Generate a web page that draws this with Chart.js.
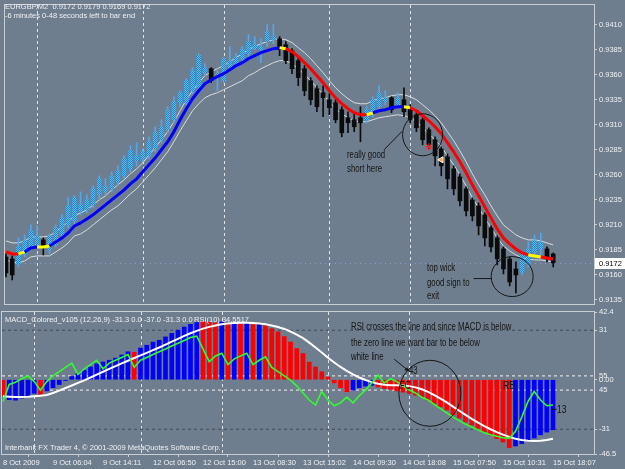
<!DOCTYPE html>
<html>
<head>
<meta charset="utf-8">
<script src="https://cdn.jsdelivr.net/npm/chart.js@4.4.1/dist/chart.umd.min.js"></script>
<style>
  html, body { margin: 0; padding: 0; background: #6f7e8e; }
  #wrap { position: relative; width: 625px; height: 469px; overflow: hidden; background: #6f7e8e; font-family: "Liberation Sans", Arial, sans-serif; }
  #top { position: absolute; left: 0; top: 0; }
  #bot { position: absolute; left: 0; top: 309px; }
  .t { position: absolute; font-size: 7.5px; line-height: 9px; color: #eef1f4; white-space: pre; }
  .n { position: absolute; font-size: 10px; line-height: 12px; color: #141414; white-space: pre; transform: scaleX(0.78); transform-origin: 0 0; }
</style>
</head>
<body>
<div id="wrap">
  <canvas id="top" width="625" height="309"></canvas>
  <canvas id="bot" width="625" height="160"></canvas>

  <div class="t" style="left:5px;top:2px">EURGBP,M2  0.9172 0.9179 0.9169 0.9172</div>
  <div class="t" style="left:5px;top:11px">-6 minutes 0-48 seconds left to bar end</div>
  <div class="t" style="left:5px;top:315px">MACD_Colored_v105 (12,26,9) -31.3 0.0 -37.0 -31.3 0.0</div>
  <div class="t" style="left:194px;top:315px">RSI(10) 34.5517</div>
  <div class="t" style="left:5px;top:443px">Interbank FX Trader 4, © 2001-2009 MetaQuotes Software Corp.</div>

  <div class="n" style="left:347px;top:149px">really good</div>
  <div class="n" style="left:347px;top:163px">short here</div>
  <div class="n" style="left:427px;top:262px">top wick</div>
  <div class="n" style="left:427px;top:277px">good sign to</div>
  <div class="n" style="left:427px;top:290px">exit</div>
  <div class="n" style="left:351px;top:321px">RSI crosses the line and since MACD is below</div>
  <div class="n" style="left:351px;top:337px">the zero line we want bar to be below</div>
  <div class="n" style="left:351px;top:351px">white line</div>
  <div class="n" style="left:409px;top:365px">43</div>
  <div class="n" style="left:400px;top:380px">FC</div>
  <div class="n" style="left:503px;top:379px;font-size:11px">RB</div>
  <div class="n" style="left:557px;top:403px;font-size:11px">13</div>
</div>

<script>
// time axis, one label every 8 bars
const timeLabels = ['8 Oct 2009', '9 Oct 06:04', '9 Oct 14:11', '12 Oct 06:50', '12 Oct 15:00', '13 Oct 08:30',
                    '13 Oct 15:02', '14 Oct 09:30', '14 Oct 18:08', '15 Oct 07:50', '15 Oct 10:31', '15 Oct 18:07'];
const tickIdx = [0, 8, 16, 24, 32, 40, 48, 56, 64, 72, 80, 88];
const sepIdx = [5, 22, 35, 52, 65];
const priceTicks = [0.9135, 0.9160, 0.9185, 0.9210, 0.9235, 0.9260, 0.9285, 0.9310, 0.9335, 0.9360, 0.9385, 0.9410];

const open = [.9178,.9176,.9171,.9181,.9188,.9190,.9195,.9185,.9190,.9200,
  .9210,.9214,.9224,.9225,.9230,.9240,.9243,.9246,.9253,.9259,
  .9266,.9274,.9276,.9279,.9286,.9295,.9305,.9315,.9332,.9332,
  .9344,.9347,.9362,.9366,.9357,.9354,.9367,.9369,.9376,.9381,
  .9386,.9385,.9393,.9395,.9396,.9390,.9384,.9374,.9366,.9354,
  .9346,.9342,.9335,.9332,.9325,.9317,.9315,.9317,.9315,.9322,
  .9328,.9333,.9337,.9330,.9335,.9327,.9320,.9315,.9305,.9295,
  .9286,.9278,.9266,.9258,.9246,.9235,.9229,.9220,.9207,.9197,
  .9186,.9176,.9166,.9163,.9172,.9183,.9186,.9186,.9181];
const high = [.9181,.9179,.9197,.9200,.9210,.9209,.9197,.9201,.9210,.9220,
  .9237,.9239,.9243,.9240,.9249,.9259,.9256,.9263,.9269,.9279,
  .9289,.9292,.9286,.9298,.9308,.9315,.9328,.9338,.9344,.9356,
  .9367,.9381,.9371,.9367,.9364,.9377,.9388,.9381,.9388,.9400,
  .9398,.9396,.9410,.9410,.9398,.9393,.9386,.9377,.9369,.9357,
  .9349,.9349,.9341,.9335,.9328,.9323,.9322,.9328,.9328,.9338,
  .9349,.9344,.9338,.9342,.9347,.9330,.9322,.9317,.9307,.9298,
  .9288,.9281,.9269,.9261,.9248,.9237,.9232,.9222,.9209,.9199,
  .9188,.9178,.9173,.9183,.9193,.9200,.9202,.9188,.9182];
const low = [.9158,.9155,.9168,.9178,.9185,.9188,.9180,.9181,.9188,.9197,
  .9207,.9210,.9220,.9222,.9227,.9235,.9240,.9243,.9249,.9256,
  .9263,.9269,.9273,.9276,.9283,.9292,.9302,.9312,.9328,.9330,
  .9341,.9344,.9359,.9352,.9344,.9352,.9366,.9367,.9374,.9377,
  .9385,.9372,.9388,.9391,.9379,.9371,.9361,.9349,.9339,.9330,
  .9323,.9318,.9320,.9312,.9298,.9302,.9303,.9293,.9312,.9318,
  .9325,.9330,.9322,.9327,.9318,.9312,.9303,.9290,.9286,.9269,
  .9259,.9246,.9240,.9229,.9219,.9214,.9200,.9189,.9183,.9170,
  .9161,.9149,.9142,.9160,.9168,.9180,.9180,.9173,.9168];
const close = [.9162,.9160,.9188,.9194,.9204,.9199,.9188,.9199,.9207,.9217,
  .9229,.9237,.9230,.9235,.9246,.9256,.9249,.9259,.9264,.9276,
  .9284,.9279,.9283,.9293,.9303,.9308,.9325,.9333,.9342,.9354,
  .9364,.9379,.9367,.9354,.9361,.9376,.9374,.9377,.9385,.9393,
  .9390,.9388,.9403,.9398,.9385,.9374,.9366,.9357,.9344,.9335,
  .9328,.9337,.9327,.9315,.9302,.9312,.9308,.9312,.9325,.9335,
  .9342,.9337,.9325,.9337,.9323,.9315,.9307,.9295,.9290,.9279,
  .9269,.9256,.9246,.9234,.9224,.9219,.9209,.9197,.9188,.9176,
  .9166,.9153,.9160,.9180,.9186,.9194,.9192,.9177,.9172];

// trend line and its envelope
const ma = [.9183,.9181,.9181,.9183,.9187,.9188,.9188,.9189,.9193,.9197,
  .9202,.9209,.9212,.9216,.9220,.9225,.9230,.9235,.9240,.9245,
  .9251,.9256,.9263,.9270,.9277,.9285,.9293,.9303,.9315,.9326,
  .9336,.9344,.9351,.9355,.9358,.9361,.9365,.9369,.9372,.9376,
  .9379,.9382,.9384,.9386,.9387,.9386,.9383,.9378,.9372,.9366,
  .9359,.9352,.9344,.9337,.9331,.9326,.9322,.9320,.9320,.9322,
  .9324,.9325,.9327,.9328,.9328,.9327,.9324,.9319,.9314,.9308,
  .9301,.9292,.9283,.9273,.9262,.9250,.9239,.9228,.9217,.9206,
  .9197,.9191,.9186,.9182,.9180,.9179,.9178,.9177,.9176];
// [first bar, colour] runs of the trend line
const maSegs = [[0,'r'],[2,'y'],[3,'b'],[5,'y'],[7,'b'],[44,'y'],[45,'r'],[58,'y'],[59,'b'],[64,'y'],[65,'r'],[84,'y'],[86,'r']];
const upBand = [.9194,.9192,.9192,.9194,.9198,.9198,.9198,.9199,.9203,.9208,
  .9213,.9219,.9222,.9225,.9230,.9235,.9239,.9245,.9250,.9255,
  .9261,.9266,.9272,.9280,.9287,.9295,.9303,.9313,.9324,.9335,
  .9344,.9352,.9359,.9363,.9366,.9369,.9373,.9377,.9381,.9385,
  .9388,.9391,.9393,.9395,.9396,.9395,.9392,.9387,.9382,.9376,
  .9369,.9362,.9354,.9347,.9341,.9336,.9332,.9331,.9331,.9334,
  .9336,.9337,.9339,.9340,.9340,.9338,.9335,.9330,.9325,.9319,
  .9312,.9303,.9294,.9284,.9273,.9261,.9250,.9240,.9229,.9219,
  .9210,.9205,.9200,.9197,.9195,.9195,.9194,.9192,.9190];
const dnBand = [.9175,.9173,.9172,.9174,.9178,.9179,.9179,.9179,.9183,.9187,
  .9192,.9199,.9201,.9205,.9210,.9215,.9220,.9225,.9229,.9235,
  .9241,.9246,.9253,.9260,.9267,.9275,.9283,.9293,.9304,.9314,
  .9324,.9331,.9337,.9340,.9342,.9345,.9348,.9351,.9354,.9359,
  .9362,.9366,.9369,.9372,.9374,.9374,.9371,.9366,.9360,.9354,
  .9347,.9340,.9333,.9326,.9321,.9317,.9314,.9313,.9313,.9315,
  .9317,.9318,.9319,.9320,.9319,.9317,.9313,.9307,.9301,.9295,
  .9288,.9279,.9270,.9260,.9249,.9237,.9227,.9217,.9207,.9197,
  .9189,.9184,.9180,.9177,.9176,.9175,.9175,.9174,.9173];
const markIdx = [68, 70];
const markPrice = [0.9288, 0.9275];

// lower window
const macd = [-10,-12.5,-12.8,-11.5,-10,-8.5,-9,-7,-5,-3,
  -0.5,2,4,6,8,10,11.1,12.2,13.5,15.5,
  17.5,17.2,19.8,21.6,23.6,24.7,26.8,29,31,33,
  34.7,35.8,36.3,36,35.5,36.2,35.5,35.8,35,35.3,
  34.5,34.8,34,32,30,27,23.6,19.5,16.4,11,
  8,5,1.8,-2,-5,-7.5,-6.5,-5,-4,-3.5,
  -4.5,-5.5,-6,-7,-7.8,-8.6,-9.7,-10.7,-12.8,-14.9,
  -17,-19,-22,-24,-26.4,-28.4,-30.5,-32.6,-34.7,-36.8,
  -39,-42.5,-41.5,-40,-38.5,-36.5,-34.5,-32.8,-31.3];
const macdRed = [[0,0],[6,6],[21,21],[32,34],[36,36],[38,38],[40,40],[42,55],[60,81]];
const signal = [-10.4,-10.6,-10.8,-10.8,-10.6,-10.3,-10,-9.5,-8.3,-6.8,
  -5.2,-3.6,-2,-0.4,1.4,3.2,5,6.8,8.5,10.2,
  11.9,13.6,15.2,16.8,18.5,20.2,22,23.8,25.6,27.4,
  29.1,30.6,32,33.1,34,34.7,35.2,35.5,35.7,35.7,
  35.5,35.2,34.7,34,33,31.8,30.2,28.3,26,23.2,
  20.2,17,13.8,10.8,8,5.5,3.3,1.4,-0.2,-1.5,
  -2.5,-3.1,-3.4,-3.5,-3.6,-4,-4.8,-6,-7.6,-9.6,
  -11.8,-14.2,-16.8,-19.4,-22,-24.5,-26.8,-29,-31,-32.8,
  -34.4,-35.8,-36.9,-37.7,-38.2,-38.4,-38.2,-37.7,-37];
const rsi = [37,49,50.5,53,55,51,45,51,55,58,
  61,64,56,60,63,66,60,64,66,68,
  70,61,66,68,70,72,74,76,78,80,
  82,83,74,65,69,71,63,67,69,71,
  63,66,68.5,61,58,55,52,48,43,38,
  34.5,44,38,34,36,40,36,41,45,50,
  55.6,50,53,51,48,45,43,40,38,35,
  32,29,26,23.5,21,19,17,15,13.5,12.5,
  11.5,11,16,26,37,44,38,34,34.55];
const macdTicks = [42.4, 31, 0, -31, -46.5];
const rsiTicks = [55, 45];
const macdLevels = [31, -31];
const rsiLevels = [55, 45];

const xMin = -0.16, xMax = 94.56;
const FONT = {family: '"Liberation Sans", Arial, sans-serif', size: 7.5};
const TXT = '#eef1f4';
const EDGE = '#c9ced4';

const idx = close.map((c, i) => i);
const isBull = idx.map(i => close[i] >= open[i]);

function maColorAt(i) {
    let c = 'b';
    maSegs.forEach(s => { if (i >= s[0]) c = s[1]; });
    return {r: '#ff0000', b: '#0000ff', y: '#ffff00'}[c];
}
function macdColorAt(i) {
    return macdRed.some(r => i >= r[0] && i <= r[1]) ? '#ff0000' : '#0000ff';
}
function hatch(ctx) {
    const c = document.createElement('canvas');
    c.width = 2; c.height = 2;
    const g = c.getContext('2d');
    g.fillStyle = '#4cc6f4'; g.fillRect(0, 0, 2, 2);
    g.fillStyle = '#2a7ccc'; g.fillRect(0, 0, 1, 1); g.fillRect(1, 1, 1, 1);
    return ctx.createPattern(c, 'repeat');
}
function levelLine(v) {
    return [{x: xMin, y: v}, {x: xMax, y: v}];
}

// separators + panel frame, both windows
const frame = {
    id: 'frame',
    beforeDatasetsDraw(chart) {
        const {ctx, chartArea: a, scales: {x}} = chart;
        ctx.save();
        ctx.strokeStyle = '#dfe3e7';
        ctx.lineWidth = 1;
        ctx.setLineDash([3, 3]);
        sepIdx.forEach(i => {
            const px = Math.round(x.getPixelForValue(i)) + 0.5;
            ctx.beginPath(); ctx.moveTo(px, a.top); ctx.lineTo(px, a.bottom); ctx.stroke();
        });
        ctx.restore();
    },
    afterDraw(chart) {
        const {ctx, chartArea: a} = chart;
        ctx.save();
        ctx.strokeStyle = EDGE;
        ctx.lineWidth = 1;
        ctx.strokeRect(Math.round(a.left) - 0.5, Math.round(a.top) - 0.5, Math.round(a.width) + 1, Math.round(a.height) + 1);
        ctx.restore();
    }
};

function ellipse(ctx, cx, cy, rx, ry) {
    ctx.beginPath(); ctx.ellipse(cx, cy, rx, ry, 0, 0, Math.PI * 2); ctx.stroke();
}
function seg(ctx, a, b) {
    ctx.beginPath(); ctx.moveTo(a[0], a[1]); ctx.lineTo(b[0], b[1]); ctx.stroke();
}

const topNotes = {
    id: 'topNotes',
    beforeDatasetsDraw(chart) {
        const {ctx, chartArea: a, scales: {y}} = chart;
        const by = Math.round(y.getPixelForValue(close[close.length - 1])) + 0.5;
        ctx.save();
        ctx.strokeStyle = '#8d9bd0';
        ctx.setLineDash([1, 4]);
        seg(ctx, [a.left, by], [a.right, by]);
        ctx.restore();
    },
    afterDraw(chart) {
        const {ctx, scales: {x, y}} = chart;
        const p = (i, v) => [x.getPixelForValue(i), y.getPixelForValue(v)];
        ctx.save();
        ctx.strokeStyle = '#161616';
        ctx.lineWidth = 1;
        let c = p(67, 0.9300);
        ellipse(ctx, c[0], c[1], 20, 21);
        seg(ctx, p(60.8, 0.9285), p(63.7, 0.93035));
        c = p(81.4, 0.91584);
        ellipse(ctx, c[0], c[1], 21, 20);
        seg(ctx, p(75.2, 0.91564), p(78.1, 0.91564));

        // current price box
        const by = Math.round(y.getPixelForValue(close[close.length - 1]));
        ctx.fillStyle = '#ffffff';
        ctx.fillRect(595, by - 5, 30, 11);
        ctx.fillStyle = '#000000';
        ctx.font = '7.5px "Liberation Sans", Arial, sans-serif';
        ctx.textBaseline = 'middle';
        ctx.fillText(close[close.length - 1].toFixed(4), 599, by + 0.5);
        ctx.restore();
    }
};

const botNotes = {
    id: 'botNotes',
    afterDraw(chart) {
        const {ctx, chartArea: area, scales: {x, yM, yR}} = chart;
        const p = (i, v) => [x.getPixelForValue(i), yM.getPixelForValue(v)];
        ctx.save();
        // RSI level labels share the right edge with the MACD ticks
        ctx.fillStyle = TXT;
        ctx.font = '7.5px "Liberation Sans", Arial, sans-serif';
        ctx.textBaseline = 'middle';
        rsiTicks.forEach(v => ctx.fillText(String(v), area.right + 5, yR.getPixelForValue(v)));

        ctx.strokeStyle = '#161616';
        ctx.fillStyle = '#161616';
        ctx.lineWidth = 1;
        const c = p(68.3, -8.5);
        ellipse(ctx, c[0], c[1], 31, 33);
        const a0 = p(62.6, 12.8), a1 = p(65, 5.3);
        seg(ctx, a0, a1);
        ctx.beginPath();
        ctx.moveTo(a1[0], a1[1]);
        ctx.lineTo(a1[0] - 5, a1[1] - 1);
        ctx.lineTo(a1[0] - 2, a1[1] - 4);
        ctx.closePath(); ctx.fill();
        seg(ctx, p(87.8, -18.5), p(88.6, -18.5));
        ctx.restore();
    }
};

const ctxTop = document.getElementById('top').getContext('2d');
const bullFill = hatch(ctxTop);

new Chart(ctxTop, {
    type: 'bar',
    data: {
        datasets: [
            {
                type: 'line', showLine: false, order: -1,
                data: markIdx.map((m, k) => ({x: m, y: markPrice[k]})),
                pointStyle: ['star', 'triangle'], rotation: [0, 270],
                pointRadius: [3.5, 3.5],
                pointBackgroundColor: ['#ff3030', '#ffa020'],
                pointBorderColor: ['#ff2020', '#ffffff'], pointBorderWidth: 1
            },
            {
                type: 'line', order: 0,
                data: idx.map(i => ({x: i, y: ma[i]})),
                borderWidth: 3, pointRadius: 0, borderColor: '#0000ff',
                segment: {borderColor: c => maColorAt(c.p0DataIndex)}
            },
            {
                order: 1, grouped: false, barThickness: 4, minBarLength: 1,
                data: idx.map(i => ({x: i, y: [open[i], close[i]]})),
                backgroundColor: idx.map(i => isBull[i] ? bullFill : '#0b0b0b')
            },
            {
                order: 2, grouped: false, barThickness: 1,
                data: idx.map(i => ({x: i, y: [low[i], high[i]]})),
                backgroundColor: idx.map(i => isBull[i] ? '#4ea8f2' : '#0b0b0b')
            },
            {
                type: 'line', order: 3,
                data: idx.map(i => ({x: i, y: upBand[i]})),
                borderWidth: 1, pointRadius: 0, borderColor: '#d8dbde'
            },
            {
                type: 'line', order: 3,
                data: idx.map(i => ({x: i, y: dnBand[i]})),
                borderWidth: 1, pointRadius: 0, borderColor: '#d8dbde'
            }
        ]
    },
    options: {
        responsive: false, animation: false, events: [],
        layout: {padding: {left: 2, top: 3, right: 0, bottom: 1}},
        plugins: {legend: {display: false}, tooltip: {enabled: false}},
        scales: {
            x: {type: 'linear', min: xMin, max: xMax, offset: false, display: false},
            y: {
                position: 'right', min: 0.91310, max: 0.94296,
                afterBuildTicks: s => { s.ticks = priceTicks.map(v => ({value: v})); },
                afterFit: s => { s.width = 31; s.paddingTop = 0; s.paddingBottom = 0; },
                ticks: {font: FONT, color: TXT, padding: 2, callback: v => v.toFixed(4)},
                grid: {drawOnChartArea: false, tickLength: 3, color: EDGE},
                border: {display: false}
            }
        }
    },
    plugins: [frame, topNotes]
});

const levelSets = macdLevels.map(v => ({
    type: 'line', order: 4, yAxisID: 'yM', data: levelLine(v),
    borderColor: '#414b56', borderWidth: 1, borderDash: [3, 3], pointRadius: 0
})).concat(rsiLevels.map(v => ({
    type: 'line', order: 4, yAxisID: 'yR', data: levelLine(v),
    borderColor: '#f2f2f2', borderWidth: 1, borderDash: [3, 3], pointRadius: 0
})));

new Chart(document.getElementById('bot'), {
    type: 'bar',
    data: {
        datasets: [
            {
                type: 'line', order: 0, yAxisID: 'yR',
                data: idx.map(i => ({x: i, y: rsi[i]})),
                borderColor: '#2cff2c', borderWidth: 1.6, pointRadius: 0
            },
            {
                type: 'line', order: 1, yAxisID: 'yM',
                data: idx.map(i => ({x: i, y: signal[i]})),
                borderColor: '#ffffff', borderWidth: 2, pointRadius: 0
            },
            {
                order: 2, yAxisID: 'yM', grouped: false, barThickness: 4,
                data: idx.map(i => ({x: i, y: macd[i]})),
                backgroundColor: idx.map(i => macdColorAt(i))
            }
        ].concat(levelSets)
    },
    options: {
        responsive: false, animation: false, events: [],
        layout: {padding: {left: 2, top: 3, right: 0, bottom: 0}},
        plugins: {legend: {display: false}, tooltip: {enabled: false}},
        scales: {
            x: {
                type: 'linear', position: 'bottom', min: xMin, max: xMax, offset: false,
                afterBuildTicks: s => { s.ticks = tickIdx.map(v => ({value: v})); },
                afterFit: s => { s.height = 15; s.paddingLeft = 0; s.paddingRight = 0; },
                ticks: {
                    font: FONT, color: TXT, padding: 1, align: 'start',
                    autoSkip: false, maxRotation: 0, minRotation: 0,
                    callback: v => timeLabels[tickIdx.indexOf(v)] || ''
                },
                grid: {drawOnChartArea: false, tickLength: 3, color: EDGE},
                border: {display: false}
            },
            yM: {
                position: 'right', min: -46.5, max: 42.4,
                afterBuildTicks: s => { s.ticks = macdTicks.map(v => ({value: v})); },
                afterFit: s => { s.width = 31; s.paddingTop = 0; s.paddingBottom = 0; },
                ticks: {font: FONT, color: TXT, padding: 2, callback: v => v === 0 ? '0.00' : String(v)},
                grid: {drawOnChartArea: false, tickLength: 3, color: EDGE},
                border: {display: false}
            },
            yR: {position: 'right', min: 0, max: 100, display: false}
        }
    },
    plugins: [frame, botNotes]
});
</script>
</body>
</html>
